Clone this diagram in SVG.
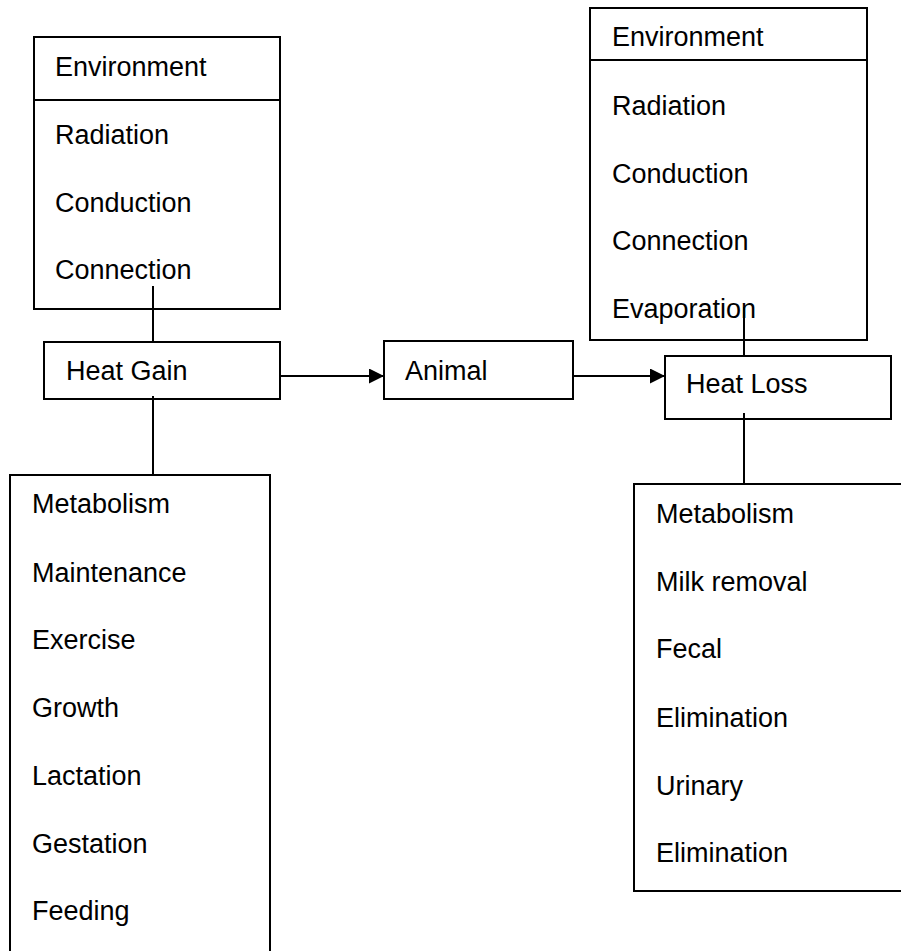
<svg xmlns="http://www.w3.org/2000/svg" width="901" height="951" viewBox="0 0 901 951">
<style>
.box{fill:#fff;stroke:#000;stroke-width:2}
.ln{stroke:#000;stroke-width:2;fill:none}
text{font-family:"Liberation Sans",Arial,sans-serif;font-size:27px;fill:#000}
</style>
<defs>
<marker id="ah" viewBox="0 0 15 15" refX="15" refY="7.5" markerWidth="15" markerHeight="15" markerUnits="userSpaceOnUse" orient="auto">
<path d="M0,0 L15,7.5 L0,15 Z" fill="#000"/>
</marker>
</defs>
<rect width="901" height="951" fill="#fff"/>
<g id="env-gain">
<rect class="box" x="34" y="37" width="246" height="272"/>
<line class="ln" x1="34" y1="100" x2="280" y2="100"/>
<text x="55" y="76">Environment</text>
<text x="55" y="144">Radiation</text>
<text x="55" y="212">Conduction</text>
<text x="55" y="279">Connection</text>
</g>
<g id="env-loss">
<rect class="box" x="590" y="8" width="277" height="332"/>
<line class="ln" x1="590" y1="60" x2="867" y2="60"/>
<text x="612" y="46">Environment</text>
<text x="612" y="115">Radiation</text>
<text x="612" y="183">Conduction</text>
<text x="612" y="250">Connection</text>
<text x="612" y="318">Evaporation</text>
</g>
<g id="heat-gain">
<rect class="box" x="44" y="342" width="236" height="57"/>
<text x="66" y="380">Heat Gain</text>
</g>
<g id="animal">
<rect class="box" x="384" y="341" width="189" height="58"/>
<text x="405" y="380">Animal</text>
</g>
<g id="heat-loss">
<rect class="box" x="665" y="356" width="226" height="63"/>
<text x="686" y="393">Heat Loss</text>
</g>
<g id="gain-factors">
<rect class="box" x="10" y="475" width="260" height="500"/>
<text x="32" y="513">Metabolism</text>
<text x="32" y="582">Maintenance</text>
<text x="32" y="649">Exercise</text>
<text x="32" y="717">Growth</text>
<text x="32" y="785">Lactation</text>
<text x="32" y="853">Gestation</text>
<text x="32" y="920">Feeding</text>
</g>
<g id="loss-factors">
<rect class="box" x="634" y="484" width="280" height="407"/>
<text x="656" y="523">Metabolism</text>
<text x="656" y="591">Milk removal</text>
<text x="656" y="658">Fecal</text>
<text x="656" y="727">Elimination</text>
<text x="656" y="795">Urinary</text>
<text x="656" y="862">Elimination</text>
</g>
<g id="connectors">
<line class="ln" x1="153" y1="286" x2="153" y2="342"/>
<line class="ln" x1="153" y1="396" x2="153" y2="475"/>
<line class="ln" x1="744" y1="307" x2="744" y2="356"/>
<line class="ln" x1="744" y1="413" x2="744" y2="484"/>
<line class="ln" x1="280" y1="376" x2="384" y2="376" marker-end="url(#ah)"/>
<line class="ln" x1="573" y1="376" x2="665" y2="376" marker-end="url(#ah)"/>
</g>
</svg>
